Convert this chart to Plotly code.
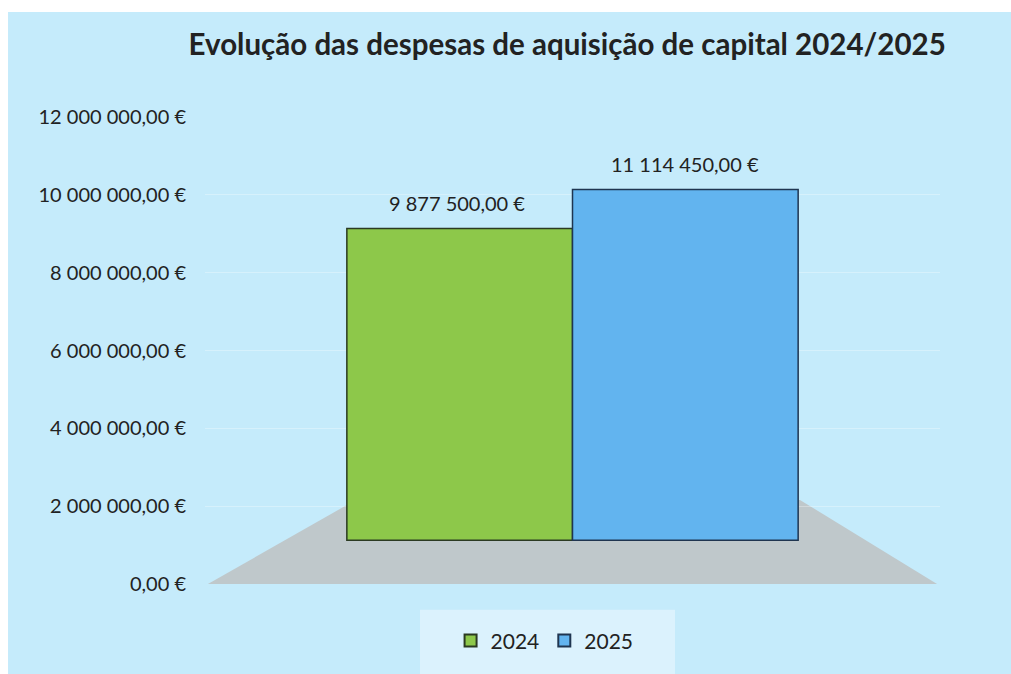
import plotly.graph_objects as go

# ---- data ----
categories = ["Despesas de aquisição de capital"]
series_names = ["2024", "2025"]
values_2024 = [9877500.00]
values_2025 = [11114450.00]
value_labels = ["9 877 500,00 €", "11 114 450,00 €"]
tick_values = [0, 2000000, 4000000, 6000000, 8000000, 10000000, 12000000]
tick_labels = ["0,00 €", "2 000 000,00 €", "4 000 000,00 €", "6 000 000,00 €",
               "8 000 000,00 €", "10 000 000,00 €", "12 000 000,00 €"]
title_text = "Evolução das despesas de aquisição de capital 2024/2025"

BG = "#c5ebfb"
FONT = "Lato"

fig = go.Figure()
# invisible anchor trace so the visible value axis is drawn
fig.add_trace(go.Scatter(x=categories, y=[0], mode="markers", marker=dict(opacity=0),
                         showlegend=False, hoverinfo="skip"))
fig.add_trace(go.Bar(
    name=series_names[0], x=categories, y=values_2024, yaxis="y2",
    marker=dict(color="#8dc84a", line=dict(color="#2b3a22", width=1.5)),
    hoverinfo="y",
))
fig.add_trace(go.Bar(
    name=series_names[1], x=categories, y=values_2025, yaxis="y2",
    marker=dict(color="#62b4ef", line=dict(color="#1f3550", width=1.5)),
    hoverinfo="y",
))

# value labels above bars
for i, (vals, lab) in enumerate(zip([values_2024, values_2025], value_labels)):
    fig.add_annotation(
        x=categories[0], y=vals[0], xref="x", yref="y2",
        text=lab, showarrow=False, yshift=25, xshift=(-116 if i == 0 else 112),
        font=dict(family=FONT, size=20, color="#222222"),
    )

shapes = [
    # floor of the 3D chart
    dict(type="path", xref="paper", yref="paper",
         path="M 0.004 0 L 0.996 0 L 0.8095 0.18 L 0.197 0.1727 Z",
         fillcolor="#bfc8cb", line=dict(width=0), layer="between"),
    # white scan borders
    dict(type="rect", xref="paper", yref="paper", x0=-0.3, x1=1.1,
         y0=1.225, y1=1.26, fillcolor="white", line=dict(width=0), layer="below"),
    dict(type="rect", xref="paper", yref="paper", x0=-0.3, x1=-0.268,
         y0=-0.2, y1=1.26, fillcolor="white", line=dict(width=0), layer="below"),
    # lighter legend panel
    dict(type="rect", xref="paper", yref="paper", x0=0.2925, x1=0.6395,
         y0=-0.20, y1=-0.0554, fillcolor="rgba(225,244,253,0.75)",
         line=dict(width=0), layer="below"),
]

fig.update_layout(
    width=1011, height=674,
    margin=dict(l=205, r=71, t=117, b=88),
    paper_bgcolor=BG, plot_bgcolor=BG,
    barmode="group", bargap=0.386, bargroupgap=0,
    font=dict(family=FONT, color="#222222"),
    title=dict(text="<b>" + title_text + "</b>", x=0.561, xanchor="center",
               y=0.933, yanchor="middle", yref="container",
               font=dict(family=FONT, size=29.5, color="#222222")),
    xaxis=dict(showticklabels=False, showgrid=False, zeroline=False, showline=False),
    yaxis=dict(range=[0, 12000000], tickvals=tick_values, ticktext=tick_labels,
               showgrid=True, gridcolor="rgba(255,255,255,0.3)", gridwidth=1,
               zeroline=False, showline=False, ticks="", ticklabelstandoff=18,
               tickfont=dict(family=FONT, size=20, color="#222222")),
    yaxis2=dict(range=[-1388000, 13410000], overlaying="y", visible=False,
                showgrid=False, zeroline=False),
    legend=dict(orientation="h", x=0.462, xanchor="center", y=-0.122, yanchor="middle",
                bgcolor="rgba(0,0,0,0)", font=dict(family=FONT, size=21, color="#222222"),
                itemwidth=30, traceorder="normal", itemsizing="constant"),
    shapes=shapes,
    showlegend=True,
)

fig.write_html(
    "out.html",
    config={"displayModeBar": False},
    post_script=(
        "document.documentElement.style.margin='0';"
        "document.documentElement.style.overflow='hidden';"
        "document.documentElement.style.background='" + BG + "';"
        "document.body.style.margin='0';"
        "document.body.style.overflow='hidden';"
        "document.body.style.background='" + BG + "';"
    ),
)
